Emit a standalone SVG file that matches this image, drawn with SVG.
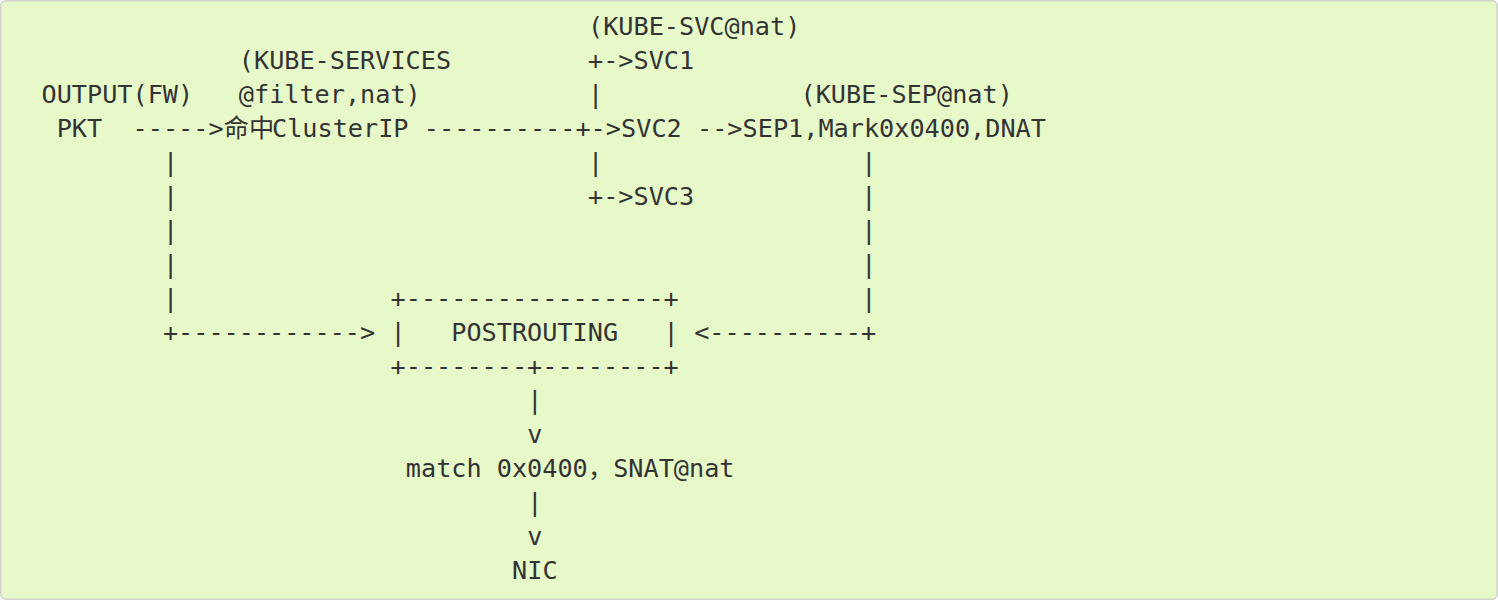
<svg xmlns="http://www.w3.org/2000/svg" width="1498" height="604" viewBox="0 0 1498 604">
<style>
.t { font-family: "DejaVu Sans Mono", "Noto Sans CJK SC", monospace; font-size: 25.2px; fill: #333333; white-space: pre; }
.bg { fill: #e8f9c9; stroke: #d2d2d2; stroke-width: 1.5; }
</style>
<rect x="0" y="0" width="1498" height="604" fill="#ffffff"/>
<rect class="bg" x="0.75" y="0.75" width="1496.5" height="598.5" rx="5"/>

<g id="node-output-pkt">
<text class="t" x="41.5" y="102.5">OUTPUT(FW)</text>
<text class="t" x="56.7" y="136.5">PKT</text>
</g>
<g id="node-kube-services">
<text class="t" x="238.8" y="68.5">(KUBE-SERVICES</text>
<text class="t" x="238.8" y="102.5">@filter,nat)</text>
<text class="t" x="223.7" y="136.5">命中</text>
<text class="t" x="272" y="136.5">ClusterIP</text>
</g>
<g id="node-kube-svc">
<text class="t" x="588" y="34.5">(KUBE-SVC@nat)</text>
<text class="t" x="633.5" y="68.5">SVC1</text>
<text class="t" x="621.1" y="136.5">SVC2</text>
<text class="t" x="633.5" y="204.5">SVC3</text>
</g>
<g id="node-kube-sep">
<text class="t" x="800.5" y="102.5">(KUBE-SEP@nat)</text>
<text class="t" x="742.6" y="136.5">SEP1,Mark0x0400,DNAT</text>
</g>
<g id="node-postrouting">
<text class="t" x="390.6" y="306.5">+-----------------+</text>
<text class="t" x="390.6" y="340.5">|   POSTROUTING   |</text>
<text class="t" x="390.6" y="374.5">+--------+--------+</text>
</g>
<g id="node-snat">
<text class="t" x="405.8" y="476.5">match 0x0400</text>
<text class="t" x="588" y="476.5">，</text>
<text class="t" x="613.2" y="476.5">SNAT@nat</text>
</g>
<g id="node-nic">
<text class="t" x="512.1" y="578.5">NIC</text>
</g>

<g id="connectors">
<!-- OUTPUT -> KUBE-SERVICES -->
<text class="t" x="132.6" y="136.5">-----&gt;</text>
<!-- KUBE-SERVICES -> KUBE-SVC -->
<text class="t" x="423.8" y="136.5">----------+-&gt;</text>
<text class="t" x="588" y="68.5">+-&gt;</text>
<text class="t" x="588" y="102.5">|</text>
<text class="t" x="588" y="170.5">|</text>
<text class="t" x="588" y="204.5">+-&gt;</text>
<!-- SVC2 -> SEP1 -->
<text class="t" x="697" y="136.5">--&gt;</text>
<!-- OUTPUT -> POSTROUTING -->
<text class="t" x="162.9" y="170.5">|</text>
<text class="t" x="162.9" y="204.5">|</text>
<text class="t" x="162.9" y="238.5">|</text>
<text class="t" x="162.9" y="272.5">|</text>
<text class="t" x="162.9" y="306.5">|</text>
<text class="t" x="162.9" y="340.5">+------------&gt;</text>
<!-- SEP -> POSTROUTING -->
<text class="t" x="861.2" y="170.5">|</text>
<text class="t" x="861.2" y="204.5">|</text>
<text class="t" x="861.2" y="238.5">|</text>
<text class="t" x="861.2" y="272.5">|</text>
<text class="t" x="861.2" y="306.5">|</text>
<text class="t" x="694.2" y="340.5">&lt;----------+</text>
<!-- POSTROUTING -> SNAT -->
<text class="t" x="527.3" y="408.5">|</text>
<text class="t" x="527.3" y="442.5">v</text>
<!-- SNAT -> NIC -->
<text class="t" x="527.3" y="510.5">|</text>
<text class="t" x="527.3" y="544.5">v</text>
</g>
</svg>
